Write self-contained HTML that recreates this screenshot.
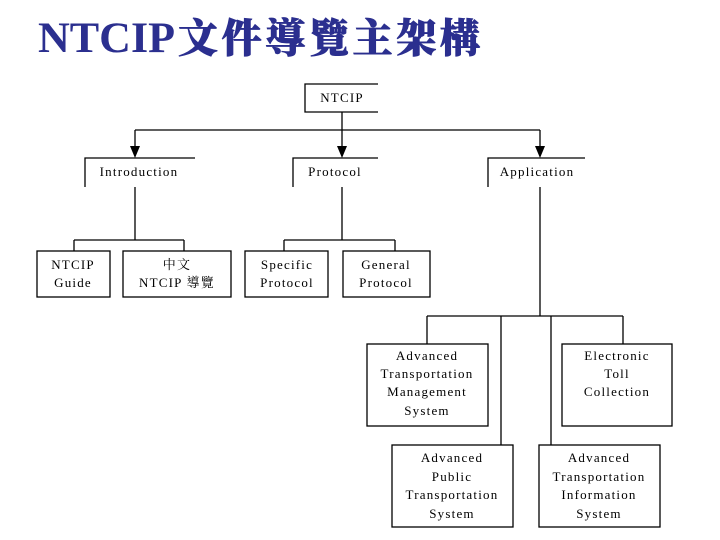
<!DOCTYPE html>
<html><head><meta charset="utf-8"><style>
html,body{margin:0;padding:0;background:#fff;}
svg{display:block;}
</style></head><body>
<svg width="720" height="540" xmlns="http://www.w3.org/2000/svg">
<text x="38" y="52" font-family="Liberation Serif, serif" font-weight="bold" font-size="43" fill="#2b2f8f" textLength="137" lengthAdjust="spacingAndGlyphs">NTCIP</text>
<text x="178" y="52" font-family="Noto Serif CJK SC, Noto Sans CJK TC, serif" font-weight="900" font-size="40" fill="#2b2f8f" stroke="#2b2f8f" stroke-width="0.8" textLength="302" lengthAdjust="spacing">文件導覽主架構</text>
<g stroke="#000" stroke-width="1.3" fill="none">
<path d="M378 84 H305 V112 H378"/>
<path d="M342 112 V152"/>
<path d="M135 130 H540"/>
<path d="M135 130 V152 M540 130 V152"/>
<path d="M195 158 H85 V187"/>
<path d="M378 158 H293 V187"/>
<path d="M585 158 H488 V187"/>
<path d="M135 187 V240 M74 240 H184 M74 240 V251 M184 240 V251"/>
<path d="M342 187 V240 M284 240 H395 M284 240 V251 M395 240 V251"/>
<path d="M540 187 V316 M427 316 H623 M427 316 V344 M623 316 V344 M501 316 V445 M551 316 V445"/>
<rect x="37" y="251" width="73" height="46"/>
<rect x="123" y="251" width="108" height="46"/>
<rect x="245" y="251" width="83" height="46"/>
<rect x="343" y="251" width="87" height="46"/>
<rect x="367" y="344" width="121" height="82"/>
<rect x="562" y="344" width="110" height="82"/>
<rect x="392" y="445" width="121" height="82"/>
<rect x="539" y="445" width="121" height="82"/>
</g>
<g fill="#000">
<path d="M130 146 H140 L135 158 Z M337 146 H347 L342 158 Z M535 146 H545 L540 158 Z"/>
</g>
<g font-family="Liberation Serif, Noto Serif CJK TC, serif" font-size="13" letter-spacing="1.2" fill="#000" text-anchor="middle">
<text x="342" y="102">NTCIP</text>
<text x="139" y="176">Introduction</text>
<text x="335" y="176">Protocol</text>
<text x="537" y="176">Application</text>
<text x="73" y="269">NTCIP</text><text x="73" y="287">Guide</text>
<text x="177" y="269">中文</text><text x="177" y="287">NTCIP 導覽</text>
<text x="287" y="269">Specific</text><text x="287" y="287">Protocol</text>
<text x="386" y="269">General</text><text x="386" y="287">Protocol</text>
<text x="427" y="360">Advanced</text><text x="427" y="378">Transportation</text><text x="427" y="396">Management</text><text x="427" y="415">System</text>
<text x="617" y="360">Electronic</text><text x="617" y="378">Toll</text><text x="617" y="396">Collection</text>
<text x="452" y="462">Advanced</text><text x="452" y="481">Public</text><text x="452" y="499">Transportation</text><text x="452" y="518">System</text>
<text x="599" y="462">Advanced</text><text x="599" y="481">Transportation</text><text x="599" y="499">Information</text><text x="599" y="518">System</text>
</g>
</svg>
</body></html>
